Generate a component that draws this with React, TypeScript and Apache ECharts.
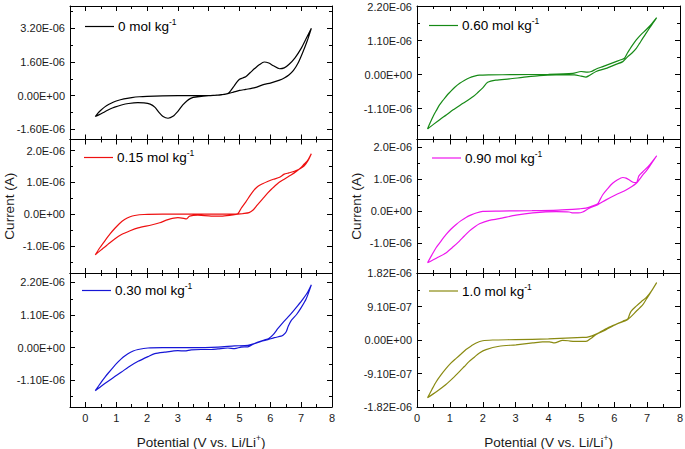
import React, { useEffect, useRef } from "react";
import * as echarts from "echarts";

// ---------- data (potential V, current µA) ----------
const concentrations = ["0", "0.15", "0.30", "0.60", "0.90", "1.0"];
const seriesColors = ["#000000", "#ee1111", "#1616d6", "#168a16", "#ee16ee", "#8a8a12"];

const cv0: number[][] = [
  [0.32, -0.99], [0.4, -0.84], [0.5, -0.69], [0.63, -0.53], [0.75, -0.42], [0.9, -0.31], [1.0, -0.25], [1.25, -0.15], [1.5, -0.09], [1.75, -0.05], [2.0, -0.03], [2.5, -0.01], [3.0, 0], [3.5, 0], [4.0, 0.01], [4.3, 0.03], [4.5, 0.06], [4.62, 0.1],
  [4.72, 0.25], [4.82, 0.45], [4.92, 0.66], [5.0, 0.78], [5.1, 0.84], [5.2, 0.9], [5.35, 1.1], [5.5, 1.3], [5.65, 1.48], [5.8, 1.6], [5.95, 1.55], [6.1, 1.42], [6.3, 1.28], [6.45, 1.32], [6.6, 1.48], [6.8, 1.8], [7.0, 2.25], [7.15, 2.68], [7.33, 3.2],
  [7.2, 2.62], [7.05, 2.05], [6.9, 1.55], [6.75, 1.2], [6.6, 0.98], [6.45, 0.84], [6.3, 0.74], [6.0, 0.6], [5.8, 0.54], [5.5, 0.38], [5.2, 0.3], [5.0, 0.25], [4.8, 0.17], [4.62, 0.1],
  [4.4, 0.04], [4.2, 0.02], [4.0, 0.0], [3.7, -0.04], [3.5, -0.08], [3.4, -0.14], [3.3, -0.24], [3.16, -0.44], [3.0, -0.74], [2.84, -0.98], [2.68, -1.07], [2.52, -0.99], [2.38, -0.78], [2.25, -0.54], [2.1, -0.4], [1.9, -0.34], [1.7, -0.33], [1.4, -0.37], [1.17, -0.44], [0.95, -0.54], [0.8, -0.63], [0.63, -0.76], [0.45, -0.9], [0.32, -0.99],
];

const cv015: number[][] = [
  [0.32, -1.28], [0.45, -1.08], [0.63, -0.84], [0.8, -0.62], [0.95, -0.45], [1.1, -0.3], [1.27, -0.17], [1.45, -0.08], [1.6, -0.04], [1.9, -0.01], [2.5, 0], [3.5, 0], [4.5, 0], [4.93, 0.01],
  [5.05, 0.18], [5.2, 0.38], [5.35, 0.6], [5.47, 0.76], [5.6, 0.88], [5.75, 0.96], [5.91, 1.03], [6.1, 1.1], [6.3, 1.16], [6.45, 1.26], [6.6, 1.3], [6.78, 1.35], [6.95, 1.42], [7.1, 1.52], [7.22, 1.68], [7.33, 1.9],
  [7.2, 1.68], [7.1, 1.58], [6.99, 1.46], [6.85, 1.35], [6.67, 1.23], [6.45, 1.1], [6.23, 0.96], [6.05, 0.8], [5.91, 0.66], [5.75, 0.48], [5.58, 0.29], [5.45, 0.14], [5.31, 0.05], [5.1, 0.02], [4.95, 0.0],
  [4.73, -0.03], [4.41, -0.06], [4.08, -0.06], [3.65, -0.03], [3.38, -0.06], [3.27, -0.15], [3.19, -0.13], [3.0, -0.11], [2.68, -0.17], [2.41, -0.27], [2.14, -0.34], [1.71, -0.43], [1.45, -0.52], [1.17, -0.64], [0.95, -0.78], [0.73, -0.95], [0.5, -1.13], [0.32, -1.28],
];

const cv030: number[][] = [
  [0.32, -1.45], [0.42, -1.3], [0.52, -1.15], [0.63, -1.0], [0.73, -0.87], [0.9, -0.66], [1.06, -0.48], [1.22, -0.32], [1.38, -0.2], [1.55, -0.11], [1.71, -0.06], [2.03, -0.01], [2.5, 0], [3.5, 0], [4.3, 0.02], [4.84, 0.06], [5.27, 0.08], [5.45, 0.13], [5.6, 0.19], [5.8, 0.26], [5.95, 0.31],
  [6.1, 0.45], [6.24, 0.64], [6.4, 0.84], [6.57, 1.03], [6.73, 1.22], [6.89, 1.42], [7.05, 1.63], [7.21, 1.87], [7.33, 2.12],
  [7.16, 1.64], [7.0, 1.35], [6.85, 1.12], [6.68, 0.92], [6.58, 0.72], [6.51, 0.53], [6.42, 0.43], [6.35, 0.39], [6.13, 0.34], [5.92, 0.27], [5.7, 0.21], [5.43, 0.11], [5.27, 0.03], [5.05, 0.02], [4.84, -0.03], [4.62, -0.01],
  [4.3, -0.04], [4.08, -0.06], [3.75, -0.06], [3.43, -0.07], [3.22, -0.11], [3.0, -0.1], [2.57, -0.15], [2.25, -0.2], [2.03, -0.3], [1.71, -0.46], [1.4, -0.65], [1.17, -0.82], [0.9, -1.01], [0.63, -1.21], [0.45, -1.35], [0.32, -1.45],
];

const cv060: number[][] = [
  [0.32, -1.76], [0.4, -1.56], [0.5, -1.33], [0.6, -1.14], [0.68, -0.99], [0.77, -0.86], [0.85, -0.75], [0.92, -0.66], [1.0, -0.57], [1.15, -0.41], [1.3, -0.28], [1.45, -0.18], [1.6, -0.1], [1.75, -0.05], [1.9, -0.02], [2.2, -0.01], [3.0, 0], [4.0, 0.01], [4.74, 0.04], [4.99, 0.1], [5.19, 0.08], [5.3, 0.1], [5.45, 0.18], [5.65, 0.26], [5.85, 0.34], [6.05, 0.42], [6.2, 0.48], [6.31, 0.53],
  [6.4, 0.7], [6.46, 0.8], [6.56, 0.96], [6.67, 1.12], [6.82, 1.3], [6.97, 1.45], [7.13, 1.63], [7.29, 1.84],
  [7.18, 1.67], [7.07, 1.5], [6.97, 1.34], [6.87, 1.18], [6.77, 1.01], [6.67, 0.85], [6.54, 0.7], [6.41, 0.58], [6.26, 0.42], [6.05, 0.33], [5.75, 0.2], [5.45, 0.1], [5.24, -0.03], [5.14, -0.08], [4.99, -0.05], [4.79, -0.01],
  [4.23, -0.01], [3.72, -0.03], [3.21, -0.09], [2.81, -0.14], [2.4, -0.18], [2.15, -0.25], [2.0, -0.43], [1.85, -0.58], [1.71, -0.71], [1.4, -0.93], [1.1, -1.14], [0.9, -1.3], [0.7, -1.45], [0.5, -1.61], [0.32, -1.76],
];

const cv090: number[][] = [
  [0.32, -1.62], [0.45, -1.38], [0.58, -1.15], [0.73, -0.94], [0.88, -0.74], [1.03, -0.57], [1.19, -0.42], [1.34, -0.3], [1.49, -0.2], [1.65, -0.12], [1.8, -0.06], [2.0, -0.01], [2.5, 0], [3.5, 0.01], [4.3, 0.03], [4.94, 0.07], [5.14, 0.09], [5.35, 0.16], [5.5, 0.23],
  [5.58, 0.38], [5.65, 0.51], [5.8, 0.7], [5.95, 0.87], [6.1, 0.98], [6.26, 1.05], [6.36, 1.03], [6.46, 0.97], [6.57, 0.9], [6.67, 0.89], [6.75, 1.1], [6.87, 1.23], [7.07, 1.44], [7.29, 1.73],
  [7.18, 1.56], [7.07, 1.39], [6.97, 1.25], [6.87, 1.13], [6.67, 0.87], [6.36, 0.66], [6.05, 0.51], [5.75, 0.35], [5.5, 0.2], [5.24, 0.09], [5.04, -0.03], [4.9, -0.06], [4.74, -0.06], [4.63, -0.03],
  [4.23, -0.02], [3.52, -0.06], [3.01, -0.13], [2.5, -0.24], [2.2, -0.29], [1.9, -0.4], [1.75, -0.5], [1.59, -0.63], [1.44, -0.78], [1.29, -0.94], [1.1, -1.12], [0.88, -1.31], [0.6, -1.47], [0.32, -1.62],
];

const cv100: number[][] = [
  [0.32, -1.57], [0.45, -1.35], [0.58, -1.14], [0.73, -0.95], [0.88, -0.78], [1.03, -0.63], [1.19, -0.5], [1.34, -0.38], [1.49, -0.26], [1.65, -0.16], [1.8, -0.08], [2.0, -0.02], [2.3, 0], [3.0, 0.01], [4.0, 0.03], [5.04, 0.07], [5.19, 0.08], [5.45, 0.16], [5.85, 0.35], [6.26, 0.51], [6.41, 0.57],
  [6.46, 0.68], [6.51, 0.78], [6.67, 0.92], [6.82, 1.04], [6.97, 1.15], [7.13, 1.33], [7.29, 1.56],
  [7.18, 1.4], [7.07, 1.24], [6.97, 1.1], [6.87, 0.96], [6.67, 0.78], [6.41, 0.56], [6.05, 0.42], [5.75, 0.28], [5.45, 0.15], [5.3, 0.05], [5.14, -0.04], [4.99, -0.04], [4.79, -0.04], [4.6, -0.02], [4.43, -0.01],
  [4.18, -0.08], [4.03, -0.05], [3.82, -0.05], [3.52, -0.08], [3.01, -0.13], [2.5, -0.17], [2.1, -0.26], [1.9, -0.35], [1.75, -0.46], [1.59, -0.58], [1.44, -0.72], [1.29, -0.86], [1.1, -1.03], [0.88, -1.21], [0.6, -1.4], [0.32, -1.57],
];

const seriesData = [cv0, cv015, cv030, cv060, cv090, cv100];

// ---------- tick values and labels ----------
const xTicks = [0, 1, 2, 3, 4, 5, 6, 7, 8];
const xTickLabels = ["0", "1", "2", "3", "4", "5", "6", "7", "8"];
const xMinorTicks = [0.5, 1.5, 2.5, 3.5, 4.5, 5.5, 6.5, 7.5];

const yTicks016 = [-1.6, 0, 1.6, 3.2];
const yLabels016 = ["-1.60E-06", "0.00E+00", "1.60E-06", "3.20E-06"];
const yMinor016 = [-0.8, 0.8, 2.4, 4.0];

const yTicks10 = [-1, 0, 1, 2];
const yLabels10 = ["-1.0E-06", "0.0E+00", "1.0E-06", "2.0E-06"];
const yMinor10 = [-1.5, -0.5, 0.5, 1.5];

const yTicks11 = [-1.1, 0, 1.1, 2.2];
const yLabels11 = ["-1.10E-06", "0.00E+00", "1.10E-06", "2.20E-06"];
const yMinor11 = [-1.65, -0.55, 0.55, 1.65];

const yTicks091 = [-1.82, -0.91, 0, 0.91, 1.82];
const yLabels091 = ["-1.82E-06", "-9.10E-07", "0.00E+00", "9.10E-07", "1.82E-06"];
const yMinor091 = [-1.365, -0.455, 0.455, 1.365];

const panelYTicks = [yTicks016, yTicks10, yTicks11, yTicks11, yTicks10, yTicks091];
const panelYLabels = [yLabels016, yLabels10, yLabels11, yLabels11, yLabels10, yLabels091];
const panelYMinor = [yMinor016, yMinor10, yMinor11, yMinor11, yMinor10, yMinor091];
const panelYRange = [[-2.08, 4.26], [-1.85, 2.35], [-2.0, 2.52], [-2.1, 2.22], [-1.94, 2.24], [-1.82, 1.82]];
const colXRange = [[-0.5, 8], [0, 8]];

// ---------- layout ----------
const colLeft = [70, 417];
const colWidth = [262, 263];
const rowTop = [6, 139.5, 273];
const rowHeight = [133.5, 133.5, 134];
const legendAt = [[85, 26.5], [84, 157.5], [82, 290.5], [429, 25.5], [432, 158], [429, 291]];

const FONT = "'Liberation Sans', Arial, Helvetica, sans-serif";
const AX = "#000";

function lookup(values: number[], labels: string[]) {
  return (v: number) => {
    for (let i = 0; i < values.length; i++) {
      if (Math.abs(values[i] - v) < 1e-6) return labels[i];
    }
    return "";
  };
}

function buildOption() {
  const grid: any[] = [];
  const xAxis: any[] = [];
  const yAxis: any[] = [];
  const series: any[] = [];
  const graphic: any[] = [];

  for (let i = 0; i < 6; i++) {
    const col = i < 3 ? 0 : 1;
    const row = i % 3;
    grid.push({
      left: colLeft[col],
      top: rowTop[row],
      width: colWidth[col],
      height: rowHeight[row],
      containLabel: false,
      outerBoundsMode: "none",
    });
    const [xmin, xmax] = colXRange[col];
    const [ymin, ymax] = panelYRange[i];
    const bottomLabels = row === 2;

    const xBase = {
      type: "value",
      gridIndex: i,
      min: xmin,
      max: xmax,
      splitLine: { show: false },
      axisPointer: { show: false },
    };
    xAxis.push({
      ...xBase,
      position: "bottom",
      axisLine: { show: true, onZero: false, lineStyle: { color: AX, width: 1 } },
      axisTick: { show: true, inside: true, length: 5, customValues: xTicks, lineStyle: { color: AX, width: 1 } },
      axisLabel: {
        show: bottomLabels,
        customValues: xTicks,
        formatter: lookup(xTicks, xTickLabels),
        margin: 5,
        fontFamily: FONT,
        fontSize: 11,
        color: "#1a1a1a",
      },
      name: bottomLabels ? "Potential (V vs. Li/Li{sup|+})" : "",
      nameLocation: "middle",
      nameGap: 26,
      nameTextStyle: {
        fontFamily: FONT,
        fontSize: 13.5,
        fontWeight: "normal",
        color: "#1a1a1a",
        lineHeight: 18,
        rich: { sup: { fontFamily: FONT, fontSize: 8.5, lineHeight: 9, verticalAlign: "top", color: "#1a1a1a" } },
      },
    });
    xAxis.push({
      ...xBase,
      position: "bottom",
      axisLine: { show: false, onZero: false },
      axisTick: { show: true, inside: true, length: 3, customValues: xMinorTicks, lineStyle: { color: AX, width: 1 } },
      axisLabel: { show: false },
    });
    xAxis.push({
      ...xBase,
      position: "top",
      axisLine: { show: true, onZero: false, lineStyle: { color: AX, width: 1 } },
      axisTick: { show: true, inside: true, length: 5, customValues: xTicks, lineStyle: { color: AX, width: 1 } },
      axisLabel: { show: false },
    });
    xAxis.push({
      ...xBase,
      position: "top",
      axisLine: { show: false, onZero: false },
      axisTick: { show: true, inside: true, length: 3, customValues: xMinorTicks, lineStyle: { color: AX, width: 1 } },
      axisLabel: { show: false },
    });

    const yBase = {
      type: "value",
      gridIndex: i,
      min: ymin,
      max: ymax,
      splitLine: { show: false },
      axisPointer: { show: false },
    };
    yAxis.push({
      ...yBase,
      position: "left",
      axisLine: { show: true, onZero: false, lineStyle: { color: AX, width: 1 } },
      axisTick: { show: true, inside: true, length: 5, customValues: panelYTicks[i], lineStyle: { color: AX, width: 1 } },
      axisLabel: {
        show: true,
        customValues: panelYTicks[i],
        formatter: lookup(panelYTicks[i], panelYLabels[i]),
        margin: 5,
        fontFamily: FONT,
        fontSize: 11,
        color: "#1a1a1a",
      },
      name: row === 1 ? "Current (A)" : "",
      nameLocation: "middle",
      nameGap: 54,
      nameRotate: 90,
      nameTextStyle: { fontFamily: FONT, fontSize: 13.5, fontWeight: "normal", color: "#1a1a1a" },
    });
    yAxis.push({
      ...yBase,
      position: "left",
      axisLine: { show: false, onZero: false },
      axisTick: { show: true, inside: true, length: 3, customValues: panelYMinor[i], lineStyle: { color: AX, width: 1 } },
      axisLabel: { show: false },
    });
    yAxis.push({
      ...yBase,
      position: "right",
      axisLine: { show: true, onZero: false, lineStyle: { color: AX, width: 1 } },
      axisTick: { show: true, inside: true, length: 5, customValues: panelYTicks[i], lineStyle: { color: AX, width: 1 } },
      axisLabel: { show: false },
    });
    yAxis.push({
      ...yBase,
      position: "right",
      axisLine: { show: false, onZero: false },
      axisTick: { show: true, inside: true, length: 3, customValues: panelYMinor[i], lineStyle: { color: AX, width: 1 } },
      axisLabel: { show: false },
    });

    series.push({
      type: "line",
      name: concentrations[i] + " mol kg-1",
      xAxisIndex: i * 4,
      yAxisIndex: i * 4,
      data: seriesData[i],
      showSymbol: false,
      symbol: "none",
      smooth: 0.25,
      lineStyle: { color: seriesColors[i], width: 1.2 },
      itemStyle: { color: seriesColors[i] },
      z: 3,
    });

    const [lx, ly] = legendAt[i];
    graphic.push({
      type: "line",
      shape: { x1: lx, y1: ly, x2: lx + 29, y2: ly },
      style: { stroke: seriesColors[i], lineWidth: 1.2 },
      silent: true,
    });
    graphic.push({
      type: "text",
      x: lx + 33,
      y: ly,
      silent: true,
      style: {
        text: "{a|" + concentrations[i] + " mol kg}{b|-1}",
        align: "left",
        verticalAlign: "middle",
        fill: "#000",
        stroke: "none",
        lineWidth: 0,
        fontWeight: "normal",
        rich: {
          a: { fontFamily: FONT, fontSize: 13.5, fontWeight: "normal", lineHeight: 18, fill: "#000", stroke: "none" },
          b: { fontFamily: FONT, fontSize: 8.5, fontWeight: "normal", lineHeight: 9, verticalAlign: "top", fill: "#000", stroke: "none" },
        },
      },
    });
  }

  return {
    animation: false,
    backgroundColor: "#ffffff",
    grid,
    xAxis,
    yAxis,
    series,
    graphic,
  };
}

export default function App() {
  const ref = useRef<HTMLDivElement>(null);
  useEffect(() => {
    if (!ref.current) return;
    const chart = echarts.init(ref.current, undefined, { renderer: "svg" });
    chart.setOption(buildOption() as any);
    return () => chart.dispose();
  }, []);
  return (
    <div
      ref={ref}
      style={{ position: "absolute", left: 0, top: 0, width: 685, height: 449, background: "#fff" }}
    />
  );
}
